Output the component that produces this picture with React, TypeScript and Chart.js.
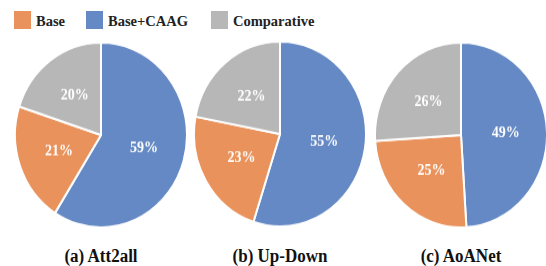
import React, { useEffect, useRef } from "react";
import { Chart, registerables } from "chart.js";

Chart.register(...registerables);

const legendLabels = ["Base", "Base+CAAG", "Comparative"];
const legendColors = ["#E9925B", "#6589C4", "#B7B7B7"];

// slice order as drawn clockwise from 12 o'clock
const sliceNames = ["Base+CAAG", "Base", "Comparative"];
const sliceColors = ["#6589C4", "#E9925B", "#B7B7B7"];

const att2allValues = [59, 21, 20];
const upDownValues = [55, 23, 22];
const aoaNetValues = [49, 25, 26];

const captions = ["(a) Att2all", "(b) Up-Down", "(c) AoANet"];
const seriesList = [att2allValues, upDownValues, aoaNetValues];

const FONT = "'Liberation Serif', 'Times New Roman', serif";

const labelPlugin = {
  id: "sliceLabels",
  afterDatasetsDraw(chart: any) {
    const ctx = chart.ctx;
    const meta = chart.getDatasetMeta(0);
    const data = chart.data.datasets[0].data as number[];
    ctx.save();
    ctx.fillStyle = "#ffffff";
    ctx.font = `bold 14px ${FONT}`;
    ctx.textAlign = "center";
    ctx.textBaseline = "middle";
    meta.data.forEach((arc: any, i: number) => {
      const p = arc.getProps(["x", "y", "startAngle", "endAngle", "outerRadius"], true);
      const mid = (p.startAngle + p.endAngle) / 2;
      const r = p.outerRadius * 0.52;
      ctx.fillText(`${data[i]}%`, p.x + Math.cos(mid) * r, p.y + Math.sin(mid) * r);
    });
    ctx.restore();
  },
};

function Pie({ values }: { values: number[] }) {
  const ref = useRef<HTMLCanvasElement>(null);
  useEffect(() => {
    if (!ref.current) return;
    const chart = new Chart(ref.current, {
      type: "pie",
      data: {
        labels: sliceNames,
        datasets: [
          {
            data: values,
            backgroundColor: sliceColors,
            borderColor: "#ffffff",
            borderWidth: 2,
          },
        ],
      },
      options: {
        animation: false,
        responsive: false,
        devicePixelRatio: 1,
        layout: { padding: 0 },
        plugins: { legend: { display: false }, tooltip: { enabled: false } },
      },
      plugins: [labelPlugin],
    });
    return () => chart.destroy();
  }, [values]);
  return <canvas ref={ref} width={174} height={174} style={{ width: 174, height: 174, display: "block" }} />;
}

const pieCenters = [
  [101, 135],
  [280, 134],
  [461, 135],
];
const legendLefts = [14, 86, 211];

export default function App() {
  return (
    <div
      style={{
        position: "fixed",
        left: 0,
        top: 0,
        width: 546,
        height: 266,
        background: "#ffffff",
        overflow: "hidden",
        fontFamily: FONT,
      }}
    >
      {legendLabels.map((l, i) => (
        <div
          key={l}
          style={{
            position: "absolute",
            left: legendLefts[i],
            top: 11,
            height: 18,
            display: "flex",
            alignItems: "center",
            fontWeight: "bold",
            fontSize: 14.5,
            color: "#222222",
            whiteSpace: "nowrap",
          }}
        >
          <span style={{ display: "inline-block", width: 17, height: 18, background: legendColors[i], marginRight: 5 }} />
          <span style={{ position: "relative", top: 1 }}>{l}</span>
        </div>
      ))}
      {seriesList.map((vals, i) => (
        <div
          key={captions[i]}
          style={{
            position: "absolute",
            left: pieCenters[i][0] - 87,
            top: pieCenters[i][1] - 87,
            width: 174,
            height: 174,
            transform: "scaleY(1.075)",
            transformOrigin: "50% 50%",
          }}
        >
          <Pie values={vals} />
        </div>
      ))}
      {captions.map((c, i) => (
        <div
          key={c}
          style={{
            position: "absolute",
            left: pieCenters[i][0] - 80,
            width: 160,
            top: 247,
            textAlign: "center",
            fontWeight: "bold",
            fontSize: 17,
            color: "#111111",
            whiteSpace: "nowrap",
            transform: "scaleY(1.08)",
          }}
        >
          {c}
        </div>
      ))}
    </div>
  );
}
